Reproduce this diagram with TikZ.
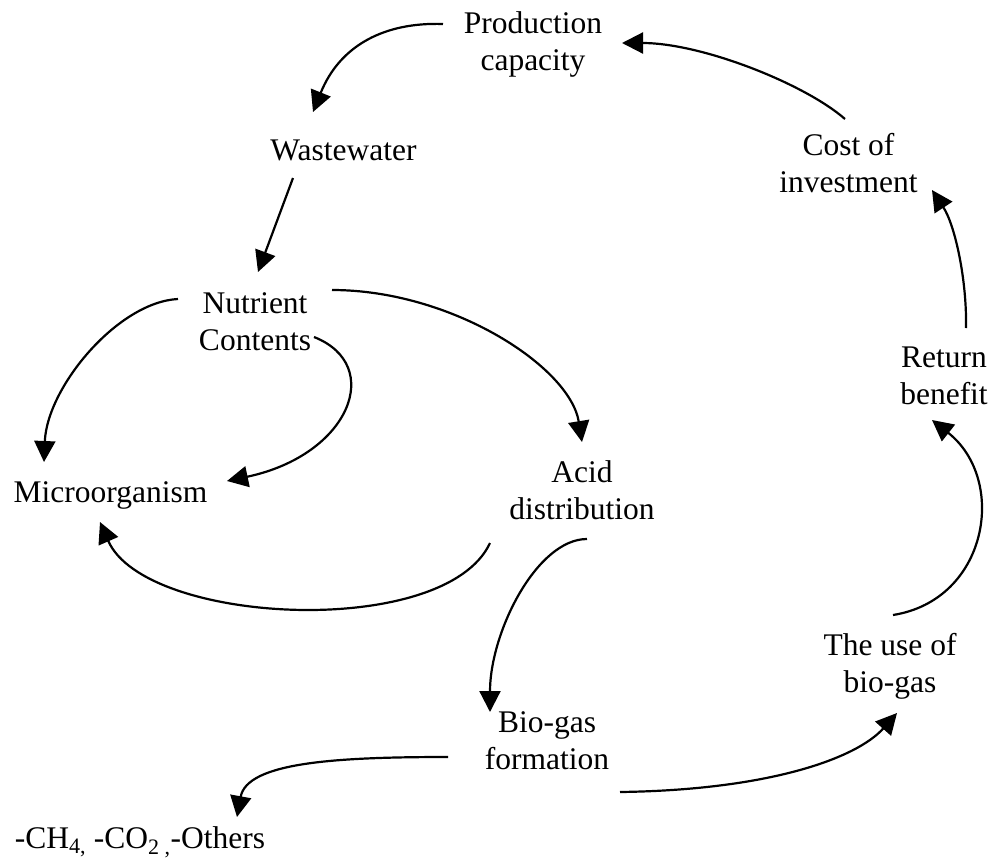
\documentclass[tikz,border=0pt]{standalone}
\usepackage{fontspec}
\setmainfont{Liberation Serif}
\usetikzlibrary{arrows.meta}
% two centred lines; the box baseline is that of the first line
\newcommand{\twoline}[2]{\begin{tabular}[t]{@{}c@{}}#1\\#2\end{tabular}}
\begin{document}
\begin{tikzpicture}[x=1pt,y=-1pt,
  lbl/.style={inner sep=0pt, anchor=base, font=\fontsize{31.5}{37}\selectfont},
  link/.style={line width=2.2pt, -{Triangle[length=21pt,width=21pt]}}]
\useasboundingbox (0,0) rectangle (994,860);

% labels (placed at the baseline of their first line)
\node[lbl] (prod)  at (533,33)   {\twoline{Production}{capacity}};
\node[lbl] (waste) at (343.5,160) {Wastewater};
\node[lbl] (nut)   at (255,313)  {\twoline{Nutrient}{Contents}};
\node[lbl] (micro) at (110.5,502) {Microorganism};
\node[lbl] (acid)  at (582,482)  {\twoline{Acid}{distribution}};
\node[lbl] (bio)   at (547,732)  {\twoline{Bio-gas}{formation}};
\node[lbl] (gas)   at (140,848)  {-CH\textsubscript{4,} -CO\textsubscript{2 ,}-Others};
\node[lbl] (cost)  at (848.5,155) {\twoline{Cost of}{investment}};
\node[lbl] (ret)   at (944,367)  {\twoline{Return}{benefit}};
\node[lbl] (use)   at (890,655)  {\twoline{The use of}{bio-gas}};

% causal links
\draw[link] ([shift={(-90,-9)}]prod.base) .. controls +(-58,-2) and +(27,-67) .. ([shift={(-30.5,-48)}]waste.base);
\draw[link] ([shift={(-50.5,18)}]waste.base) -- ([shift={(3,-41)}]nut.base);
\draw[link] ([shift={(-77,-14)}]nut.base) .. controls +(-60,3) and +(3,-75) .. ([shift={(-66.5,-40)}]micro.base);
\draw[link] ([shift={(59,24)}]nut.base) .. controls +(71,28) and +(123,-26) .. ([shift={(116.5,-21)}]micro.base);
\draw[link] ([shift={(77,-23)}]nut.base) .. controls +(120,0) and +(-12,-75) .. ([shift={(0,-40)}]acid.base);
\draw[link] ([shift={(-92,61)}]acid.base) .. controls +(-45,97) and +(45,103) .. ([shift={(-10.5,20)}]micro.base);
\draw[link] ([shift={(5,57)}]acid.base) .. controls +(-50,0) and +(0,-80) .. ([shift={(-57,-20)}]bio.base);
\draw[link] ([shift={(-99,25)}]bio.base) .. controls +(-110,0) and +(10,-55) .. ([shift={(97,-31)}]gas.base);
\draw[link] ([shift={(73,60)}]bio.base) .. controls +(150,-2) and +(-40,45) .. ([shift={(7,58)}]use.base);
\draw[link] ([shift={(3,-40)}]use.base) .. controls +(95,-15) and +(76,60) .. ([shift={(-12,53)}]ret.base);
\draw[link] ([shift={(22,-39)}]ret.base) .. controls +(1,-48) and +(23,35) .. ([shift={(83.5,35)}]cost.base);
\draw[link] ([shift={(-3.5,-36)}]cost.base) .. controls +(-40,-35) and +(80,0) .. ([shift={(89,10)}]prod.base);
\end{tikzpicture}
\end{document}
